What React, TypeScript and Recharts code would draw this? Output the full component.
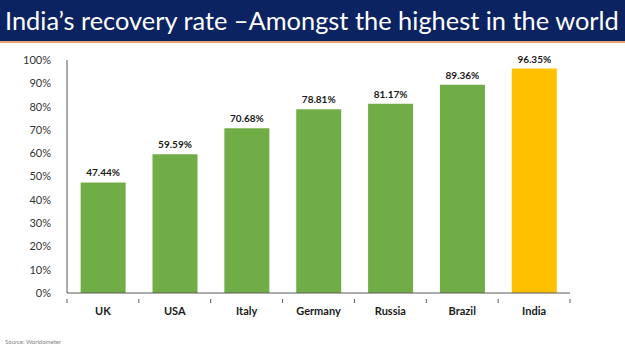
import { BarChart, Bar, XAxis, YAxis, LabelList, Cell } from 'recharts';

const countries = ['UK', 'USA', 'Italy', 'Germany', 'Russia', 'Brazil', 'India'];
const recoveryRates = [47.44, 59.59, 70.68, 78.81, 81.17, 89.36, 96.35];
const yTicks = [0, 10, 20, 30, 40, 50, 60, 70, 80, 90, 100];

const chartData = countries.map((country, i) => ({
  country,
  rate: recoveryRates[i],
}));

const FONT = 'Lato, "Open Sans", sans-serif';

// category label plus small tick marks at the category boundaries
const CountryTick = (props: any) => {
  const { x, y, payload, index } = props;
  const half = payload?.offset ?? 0;
  const axisY = y - 8;
  return (
    <g>
      <line x1={x - half} x2={x - half} y1={axisY} y2={axisY + 4} stroke="#595959" />
      {index === countries.length - 1 && (
        <line x1={x + half} x2={x + half} y1={axisY} y2={axisY + 4} stroke="#595959" />
      )}
      <text x={x} y={y} dy={8} textAnchor="middle" fontSize={11} fontWeight={700} fill="#1A1A1A" fontFamily={FONT}>
        {payload.value}
      </text>
    </g>
  );
};

export default function App() {
  return (
    <div style={{ position: 'absolute', top: 0, left: 0, width: 625, height: 351, background: '#FFFFFF', fontFamily: FONT }}>
      {/* Title bar */}
      <div style={{
        position: 'absolute', top: 0, left: 0, width: 625, height: 41,
        background: '#0B2361', borderBottom: '2px solid #E5A56E'
      }}>
        <div style={{ color: '#FFFFFF', fontSize: 25.4, lineHeight: '40px', paddingLeft: 5, whiteSpace: 'nowrap' }}>
          India’s recovery rate –Amongst the highest in the world
        </div>
      </div>

      <div style={{ position: 'absolute', top: 0, left: 0 }}>
        <BarChart
          width={625}
          height={351}
          data={chartData}
          margin={{ top: 60, right: 55, bottom: 28, left: 0 }}
          barCategoryGap="19%"
        >
          <XAxis
            dataKey="country"
            tickLine={false}
            axisLine={{ stroke: '#595959', strokeWidth: 1 }}
            tick={<CountryTick />}
            height={30}
            tickMargin={8}
            interval={0}
          />
          <YAxis
            domain={[0, 100]}
            ticks={yTicks}
            tickFormatter={(v) => `${v}%`}
            tickLine={false}
            axisLine={{ stroke: '#595959', strokeWidth: 1 }}
            tick={{ fontSize: 11, fill: '#333333', fontFamily: FONT }}
            width={67}
            tickMargin={10}
            interval={0}
          />
          <Bar dataKey="rate" isAnimationActive={false}>
            {chartData.map((d, i) => (
              <Cell key={`cell-${i}`} fill={d.country === 'India' ? '#FFC000' : '#70AD47'} />
            ))}
            <LabelList
              dataKey="rate"
              position="top"
              offset={6}
              formatter={(v: any) => `${Number(v).toFixed(2)}%`}
              style={{ fontSize: 10, fontWeight: 700, fill: '#1A1A1A', fontFamily: FONT }}
            />
          </Bar>
        </BarChart>
      </div>

      {/* Source */}
      <div style={{ position: 'absolute', left: 5, top: 338, fontSize: 6, color: '#7F7F7F' }}>
        Source: Worldometer
      </div>
    </div>
  );
}
